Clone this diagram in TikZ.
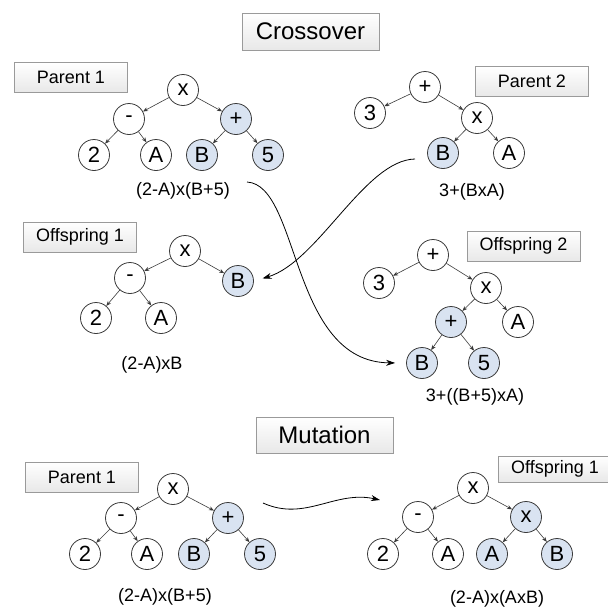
\documentclass[tikz,border=0pt]{standalone}
\usepackage{fontspec}
\setmainfont{Liberation Sans}
\usetikzlibrary{arrows.meta}
\definecolor{nodeblue}{HTML}{D9E3F1}
\definecolor{edgegray}{HTML}{3A3A3A}
\definecolor{boxgray}{HTML}{9A9A9A}

\begin{document}
\begin{tikzpicture}[x=1pt,y=-1pt,
  op/.style={circle,draw=edgegray,line width=0.8pt,fill=white,minimum size=31pt,inner sep=0pt,font=\fontsize{22}{22}\selectfont},
  sel/.style={op,fill=nodeblue},
  link/.style={-{Stealth[length=5pt,width=4pt]},edgegray,line width=0.6pt},
  tag/.style={draw=boxgray,top color=white,bottom color=gray!18,minimum width=113pt,minimum height=30pt,inner sep=0pt,font=\fontsize{18}{18}\selectfont},
  headtag/.style={tag,minimum width=137pt,minimum height=37pt,font=\fontsize{24}{24}\selectfont},
  expr/.style={font=\fontsize{18}{18}\selectfont},
  swap/.style={-{Stealth[length=9pt,width=6pt]},black,line width=0.8pt}]
  \useasboundingbox (0,0) rectangle (608,606);

  % crossover
  \node[headtag] (crosshead) at (310.5,31.5) {Crossover};

  \node[tag] (p1tag) at (71,77.5) {Parent 1};
  \node[op] (p1x) at (183,90) {x};
  \node[op] (p1m) at (129,119) {-};
  \node[sel] (p1p) at (236,119) {+};
  \node[op] (p12) at (94,155) {2};
  \node[op] (p1a) at (156,155) {A};
  \node[sel] (p1b) at (202,155) {B};
  \node[sel] (p15) at (268,155) {5};
  \node[expr] (p1expr) at (183,191) {(2-A)x(B+5)};
  \draw[link] (p1x) -- (p1m);
  \draw[link] (p1x) -- (p1p);
  \draw[link] (p1m) -- (p12);
  \draw[link] (p1m) -- (p1a);
  \draw[link] (p1p) -- (p1b);
  \draw[link] (p1p) -- (p15);

  \node[tag] (p2tag) at (532,81.5) {Parent 2};
  \node[op] (p2p) at (425,87) {+};
  \node[op] (p23) at (370,113) {3};
  \node[op] (p2x) at (477,118) {x};
  \node[sel] (p2b) at (443,153) {B};
  \node[op] (p2a) at (509,153) {A};
  \node[expr] (p2expr) at (472,192) {3+(BxA)};
  \draw[link] (p2p) -- (p23);
  \draw[link] (p2p) -- (p2x);
  \draw[link] (p2x) -- (p2b);
  \draw[link] (p2x) -- (p2a);

  \node[tag] (o1tag) at (80,237) {Offspring 1};
  \node[op] (o1x) at (185,251) {x};
  \node[op] (o1m) at (130,278) {-};
  \node[sel] (o1b) at (238,281) {B};
  \node[op] (o12) at (96,318) {2};
  \node[op] (o1a) at (161,318) {A};
  \node[expr] (o1expr) at (152,365) {(2-A)xB};
  \draw[link] (o1x) -- (o1m);
  \draw[link] (o1x) -- (o1b);
  \draw[link] (o1m) -- (o12);
  \draw[link] (o1m) -- (o1a);

  \node[tag] (o2tag) at (523.5,246) {Offspring 2};
  \node[op] (o2p) at (433,255) {+};
  \node[op] (o23) at (379,283) {3};
  \node[op] (o2x) at (486,288) {x};
  \node[sel] (o2q) at (451,322) {+};
  \node[op] (o2a) at (518,322) {A};
  \node[sel] (o2b) at (422,363) {B};
  \node[sel] (o25) at (484,363) {5};
  \node[expr] (o2expr) at (475,397) {3+((B+5)xA)};
  \draw[link] (o2p) -- (o23);
  \draw[link] (o2p) -- (o2x);
  \draw[link] (o2x) -- (o2q);
  \draw[link] (o2x) -- (o2a);
  \draw[link] (o2q) -- (o2b);
  \draw[link] (o2q) -- (o25);

  \coordinate (cutb) at (415,159);
  \coordinate (cutp) at (247,182);
  \draw[swap,shorten >=9pt] (cutb) .. controls (365,160) and (318,262) .. (o1b.east);
  \draw[swap,shorten >=11pt] (cutp) .. controls (300,185) and (290,362) .. (o2b.west);

  % mutation
  \node[headtag,minimum height=36pt] (mutehead) at (324.5,435) {Mutation};

  \node[tag] (m1tag) at (82,477) {Parent 1};
  \node[op] (m1x) at (173,489) {x};
  \node[op] (m1m) at (121,518) {-};
  \node[sel] (m1p) at (228,518) {+};
  \node[op] (m12) at (85,554) {2};
  \node[op] (m1a) at (147,554) {A};
  \node[sel] (m1b) at (194,554) {B};
  \node[sel] (m15) at (260,554) {5};
  \node[expr] (m1expr) at (165,597) {(2-A)x(B+5)};
  \draw[link] (m1x) -- (m1m);
  \draw[link] (m1x) -- (m1p);
  \draw[link] (m1m) -- (m12);
  \draw[link] (m1m) -- (m1a);
  \draw[link] (m1p) -- (m1b);
  \draw[link] (m1p) -- (m15);

  \node[tag,minimum height=26pt] (m2tag) at (555,469) {Offspring 1};
  \node[op] (m2x) at (473,488) {x};
  \node[op] (m2m) at (418,517) {-};
  \node[sel] (m2y) at (526,517) {x};
  \node[op] (m22) at (383,554) {2};
  \node[op] (m2a) at (448,554) {A};
  \node[sel] (m2c) at (492,554) {A};
  \node[sel] (m2b) at (557,554) {B};
  \node[expr] (m2expr) at (497,599) {(2-A)x(AxB)};
  \draw[link] (m2x) -- (m2m);
  \draw[link] (m2x) -- (m2y);
  \draw[link] (m2m) -- (m22);
  \draw[link] (m2m) -- (m2a);
  \draw[link] (m2y) -- (m2c);
  \draw[link] (m2y) -- (m2b);

  \coordinate (mutfrom) at (263,503);
  \coordinate (mutto) at (380,500);
  \draw[swap] (mutfrom) .. controls (305,522) and (335,490) .. (mutto);
\end{tikzpicture}
\end{document}
